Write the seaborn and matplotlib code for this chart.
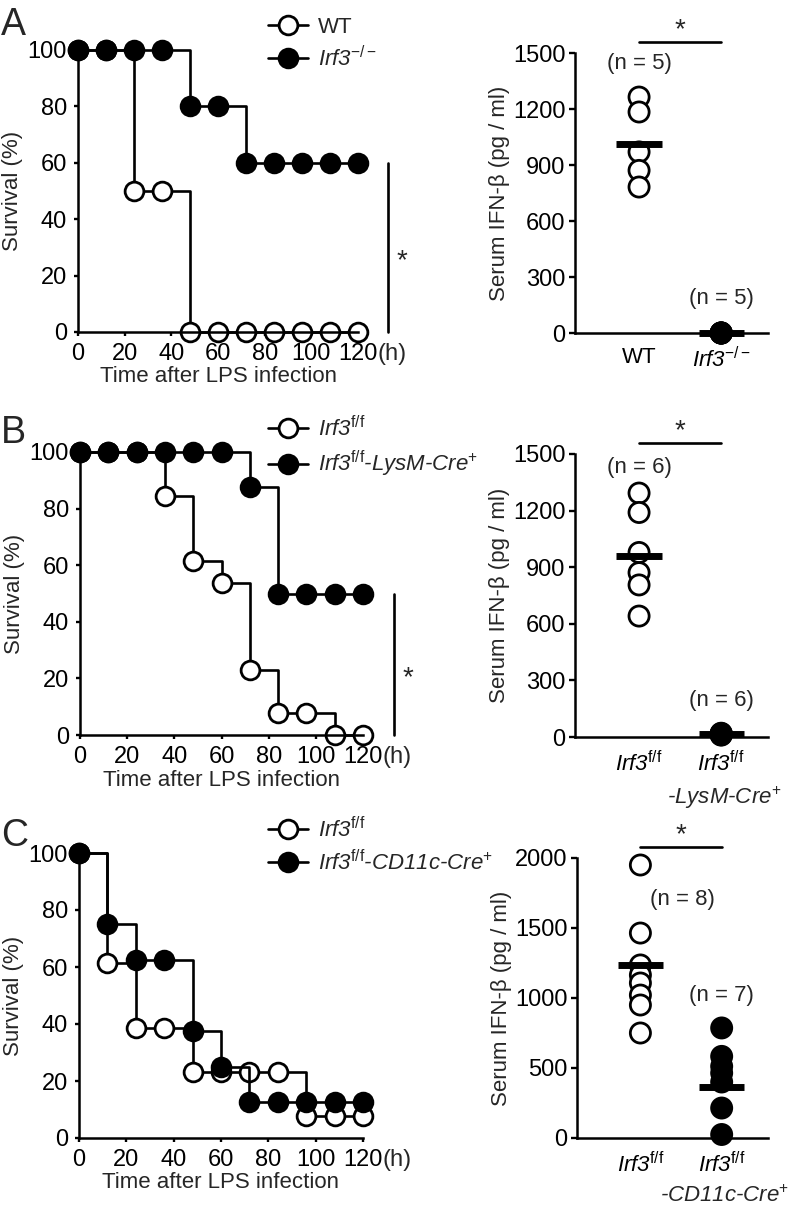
import numpy as np
import pandas as pd
import seaborn as sns
import matplotlib.pyplot as plt

# survival curves (% alive), read every 12 h
hours = [0, 12, 24, 36, 48, 60, 72, 84, 96, 108, 120]
surv_a_wt = [100, 100, 50, 50, 0, 0, 0, 0, 0, 0, 0]
surv_a_ko = [100, 100, 100, 100, 80, 80, 60, 60, 60, 60, 60]
surv_b_ff = [100, 100, 100, 84.6, 61.5, 53.8, 23.1, 7.7, 7.7, 0, 0]
surv_b_lysm = [100, 100, 100, 100, 100, 100, 87.5, 50, 50, 50, 50]
surv_c_ff = [100, 61.5, 38.5, 38.5, 23.1, 23.1, 23.1, 23.1, 7.7, 7.7, 7.7]
surv_c_cd11c = [100, 75, 62.5, 62.5, 37.5, 25, 12.5, 12.5, 12.5, 12.5, 12.5]

# serum IFN-beta (pg/ml), one value per mouse, plus the drawn mean bars
ifn_a_wt = [1264, 1184, 970, 871, 782]
ifn_a_ko = [0, 0, 0, 0, 0]
ifn_a_bar = [1011, 0]
ifn_b_ff = [1293, 1190, 978, 871, 806, 641]
ifn_b_lysm = [18, 15, 12, 20, 10, 14]
ifn_b_bar = [960, 18]
ifn_c_ff = [1950, 1464, 1236, 1164, 1107, 1021, 950, 750]
ifn_c_cd11c = [786, 583, 512, 464, 400, 214, 25]
ifn_c_bar = [1236, 364]

lab_wt = "WT"
lab_ko = r"Irf3$^{\mathrm{-/-}}$"
lab_ff = r"Irf3$^{\mathrm{f/f}}$"
lab_lysm = r"Irf3$^{\mathrm{f/f}}$-LysM-Cre$^{\mathrm{+}}$"
lab_cd11c = r"Irf3$^{\mathrm{f/f}}$-CD11c-Cre$^{\mathrm{+}}$"
line2_lysm = r"-LysM-Cre$^{\mathrm{+}}$"
line2_cd11c = r"-CD11c-Cre$^{\mathrm{+}}$"

sns.set_style("ticks")
plt.rcParams["font.family"] = ["Liberation Sans", "DejaVu Sans"]
plt.rcParams["mathtext.fontset"] = "custom"
plt.rcParams["mathtext.rm"] = "Liberation Sans"
plt.rcParams["mathtext.it"] = "Liberation Sans:italic"
plt.rcParams["mathtext.bf"] = "Liberation Sans:bold"
plt.rcParams["axes.linewidth"] = 1.8
plt.rcParams["axes.edgecolor"] = "black"

FS = 16
TS = 17
W, H = 796, 1212
fig = plt.figure(figsize=(W / 100, H / 100), dpi=100)


def rect(x0, ytop, x1, ybot):
    return [x0 / W, 1 - ybot / H, (x1 - x0) / W, (ybot - ytop) / H]


def survival(ax, s_open, s_fill, labels, leg_top, star):
    df = pd.DataFrame({"h": hours * 2, "surv": s_open + s_fill,
                       "grp": ["open"] * len(hours) + ["fill"] * len(hours)})
    handles = []
    for grp, face in [("open", "white"), ("fill", "black")]:
        sns.lineplot(data=df[df.grp == grp], x="h", y="surv", color="black", lw=1.9,
                     drawstyle="steps-post", marker="o", markersize=13.5,
                     markerfacecolor=face, markeredgecolor="black", markeredgewidth=2,
                     clip_on=False, ax=ax, legend=False)
        handles.append(ax.lines[-1])
    ax.set_xlim(0, 120)
    ax.set_ylim(0, 100)
    ax.set_xticks(range(0, 121, 20))
    ax.set_yticks(range(0, 101, 20))
    ax.tick_params(labelsize=TS, length=3, width=1.7, pad=5, colors="black")
    ax.set_xlabel("Time after LPS infection", fontsize=FS, labelpad=1)
    ax.set_ylabel("Survival (%)", fontsize=FS, labelpad=3)
    sns.despine(ax=ax)
    ax.annotate("(h)", xy=(120, 0), xycoords=ax.get_xaxis_transform(),
                xytext=(14, -8), textcoords="offset points", fontsize=TS,
                ha="left", va="top")
    leg = ax.legend(handles, labels, loc="upper left", frameon=False,
                    bbox_to_anchor=(268 / W, 1 - leg_top / H), bbox_transform=fig.transFigure,
                    handlelength=1.8, handletextpad=0.45, labelspacing=0.35,
                    borderpad=0, borderaxespad=0, fontsize=FS)
    for t, lab in zip(leg.get_texts(), labels):
        t.set_fontstyle("normal" if lab == "WT" else "italic")
    if star:
        top = s_fill[-1]
        ax.plot([133, 133], [s_open[-1], top], color="black", lw=1.9, clip_on=False)
        ax.text(139, top / 2 - 5, "*", fontsize=20, ha="center", va="center")


def dots(ax, v_open, v_fill, bars, ticklabels, line2, ymax, ystep, nlab):
    df = pd.DataFrame({"grp": ["g0"] * len(v_open) + ["g1"] * len(v_fill),
                       "ifn": v_open + v_fill})
    sns.stripplot(data=df, x="grp", y="ifn", hue="grp", order=["g0", "g1"],
                  palette={"g0": "white", "g1": "black"}, jitter=False, size=14.5,
                  linewidth=2, edgecolor="black", legend=False, ax=ax,
                  clip_on=False, zorder=3)
    ax.hlines(bars, [-0.275, 0.725], [0.275, 1.275], color="black", lw=5, zorder=4,
              clip_on=False)
    ax.set_xlim(-0.78, 1.57)
    ax.set_ylim(0, ymax)
    ax.set_yticks(np.arange(0, ymax + 1, ystep))
    ax.set_xticks([0, 1])
    ax.set_xticklabels(ticklabels)
    for t, lab in zip(ax.get_xticklabels(), ticklabels):
        t.set_fontstyle("normal" if lab == "WT" else "italic")
    ax.tick_params(axis="y", labelsize=TS, length=4, width=1.7, pad=3, colors="black")
    ax.tick_params(axis="x", labelsize=FS, length=0, pad=10, colors="black")
    if line2:
        ax.annotate(line2, xy=(1, 0), xycoords=ax.get_xaxis_transform(),
                    xytext=(2, -34), textcoords="offset points", fontsize=FS,
                    fontstyle="italic", ha="center", va="top")
    ax.set_xlabel("")
    ax.set_ylabel("Serum IFN-β (pg / ml)", fontsize=FS, labelpad=2)
    sns.despine(ax=ax)
    tr = ax.get_xaxis_transform()
    ax.plot([0, 1], [1.04, 1.04], color="black", lw=1.9, transform=tr, clip_on=False)
    ax.text(0.5, 1.08, "*", fontsize=20, ha="center", va="center", transform=tr)
    for (x, y), n in zip(nlab, [len(v_open), len(v_fill)]):
        ax.text(x, y, f"(n = {n})", fontsize=FS, ha="center", va="center")


ax = fig.add_axes(rect(78, 50, 358, 332))
survival(ax, surv_a_wt, surv_a_ko, [lab_wt, lab_ko], 17, True)
ax = fig.add_axes(rect(575, 53, 768, 333))
dots(ax, ifn_a_wt, ifn_a_ko, ifn_a_bar, [lab_wt, lab_ko], None, 1500, 300,
     [(0, 1446), (1, 187)])

ax = fig.add_axes(rect(80, 452, 363, 735))
survival(ax, surv_b_ff, surv_b_lysm, [lab_ff, lab_lysm], 416, True)
ax = fig.add_axes(rect(575, 454, 768, 737))
dots(ax, ifn_b_ff, ifn_b_lysm, ifn_b_bar, [lab_ff, lab_ff], line2_lysm, 1500, 300,
     [(0, 1431), (1, 191)])

ax = fig.add_axes(rect(79, 853, 363, 1138))
survival(ax, surv_c_ff, surv_c_cd11c, [lab_ff, lab_cd11c], 817, False)
ax = fig.add_axes(rect(577, 858, 768, 1138))
dots(ax, ifn_c_ff, ifn_c_cd11c, ifn_c_bar, [lab_ff, lab_ff], line2_cd11c, 2000, 500,
     [(0.52, 1700), (1, 1021)])

for letter, yb in [("A", 35), ("B", 443), ("C", 846)]:
    fig.text(1 / W, 1 - yb / H, letter, fontsize=27, ha="left", va="baseline")

fig.savefig("out.png", dpi=100)
